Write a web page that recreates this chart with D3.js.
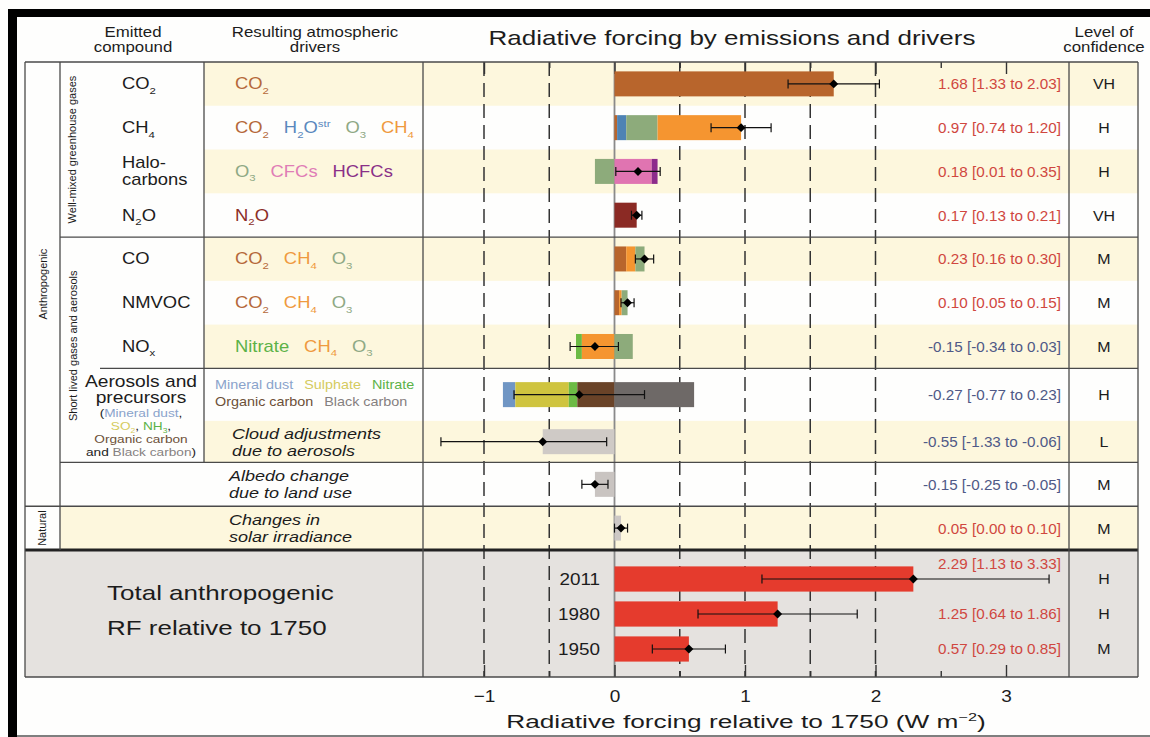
<!DOCTYPE html>
<html>
<head>
<meta charset="utf-8">
<script src="https://cdn.jsdelivr.net/npm/d3@7"></script>
<style>
  body { margin: 0; background: #fff; }
  svg { display: block; }
  text { font-family: "Liberation Sans", Arial, Helvetica, sans-serif; }
</style>
</head>
<body>
<svg id="chart" width="1150" height="737"></svg>
<script>
// ---------------- data ----------------
const rowKeys = ["CO2", "CH4", "Halocarbons", "N2O", "CO", "NMVOC", "NOx", "Aerosols", "Cloud", "Albedo", "Solar"];
const bestEstimate = [1.68, 0.97, 0.18, 0.17, 0.23, 0.10, -0.15, -0.27, -0.55, -0.15, 0.05];
const lowerBound   = [1.33, 0.74, 0.01, 0.13, 0.16, 0.05, -0.34, -0.77, -1.33, -0.25, 0.00];
const upperBound   = [2.03, 1.20, 0.35, 0.21, 0.30, 0.15, 0.03, 0.23, -0.06, -0.05, 0.10];
const confidenceLevel = ["VH", "H", "H", "VH", "M", "M", "M", "H", "L", "M", "M"];

// contribution of each atmospheric driver, listed left to right along the bar
const contributions = [
  [["CO2", 1.68]],
  [["CO2", 0.02], ["H2Ostr", 0.07], ["O3", 0.24], ["CH4", 0.64]],
  [["O3", -0.15], ["CFCs", 0.285], ["HCFCs", 0.045]],
  [["N2O", 0.17]],
  [["CO2", 0.09], ["CH4", 0.07], ["O3", 0.07]],
  [["CO2", 0.035], ["CH4", 0.02], ["O3", 0.045]],
  [["Nitrate", -0.045], ["CH4", -0.25], ["O3", 0.14]],
  [["Mineral dust", -0.095], ["Sulphate", -0.41], ["Nitrate", -0.065], ["Organic carbon", -0.285], ["Black carbon", 0.61]],
  [["Cloud", -0.55]],
  [["Albedo", -0.15]],
  [["Solar", 0.05]]
];

const emittedLabels = [["CO_2"], ["CH_4"], ["Halo-", "carbons"], ["N_2O"], ["CO"], ["NMVOC"], ["NO_x"], [], [], [], []];
const driverLabels = [
  ["CO2"], ["CO2", "H2Ostr", "O3", "CH4"], ["O3", "CFCs", "HCFCs"], ["N2O"],
  ["CO2", "CH4", "O3"], ["CO2", "CH4", "O3"], ["Nitrate", "CH4", "O3"]
];
const aerosolLegend = [["Mineral dust", "Sulphate", "Nitrate"], ["Organic carbon", "Black carbon"]];
const descriptions = { Cloud: ["Cloud adjustments", "due to aerosols"], Albedo: ["Albedo change", "due to land use"], Solar: ["Changes in", "solar irradiance"] };
const formula = { CO2: "CO_2", CH4: "CH_4", N2O: "N_2O", O3: "O_3", H2Ostr: "H_2O^{str}", CFCs: "CFCs", HCFCs: "HCFCs", Nitrate: "Nitrate" };

const years = ["2011", "1980", "1950"];
const totalBest = [2.29, 1.25, 0.57];
const totalLow  = [1.13, 0.64, 0.29];
const totalHigh = [3.33, 1.86, 0.85];
const totalConfidence = ["H", "H", "M"];

const axisTicks = [-1, 0, 1, 2, 3];
const halfTicks = [-0.5, 0.5, 1.5, 2.5];

// ---------------- styles ----------------
const INK = "#1c1c1c";
const barColor = {
  CO2: "#b8652c", H2Ostr: "#4e83b4", O3: "#8dab7b", CH4: "#f59530", CFCs: "#e074b1", HCFCs: "#8c2b8b",
  N2O: "#8b2a24", Nitrate: "#6cbb45", "Mineral dust": "#7096c4", Sulphate: "#cfc43f",
  "Organic carbon": "#6a4328", "Black carbon": "#6e6967", Cloud: "#cfcac6", Albedo: "#c9c4c1", Solar: "#cdc8c5"
};
const textColor = {
  CO2: "#b5693a", H2Ostr: "#5a88bd", O3: "#8fa985", CH4: "#ef9a3e", CFCs: "#e07db6", HCFCs: "#8a3088",
  N2O: "#8c2e28", Nitrate: "#5cb247", "Mineral dust": "#8aa3cb", Sulphate: "#d5cb5e",
  "Organic carbon": "#6c5038", "Black carbon": "#858080"
};
const CREAM = "#fdf7dd", TOTAL_BG = "#e5e2df", TOTAL_RED = "#e53b2d";
const POS_TXT = "#d0473f", NEG_TXT = "#4f5987", LINE = "#4a4a4a";

// ---------------- layout ----------------
const L = { tableL: 25, colGroup: 60, colSub: 100, colEmit: 204, plotL: 423, plotR: 1069, tableR: 1138,
            top: 62, rowsBottom: 550, bottom: 677 };
const svg = d3.select("#chart");

const x = d3.scaleLinear().domain([-1, 3]).range([484, 1006]);

// rows: aerosols row a bit taller, cloud row a bit shorter
const rowWeight = k => k === "Aerosols" ? 1.2 : k === "Cloud" ? 0.95 : 1;
const cum = [0];
rowKeys.forEach(k => cum.push(cum[cum.length - 1] + rowWeight(k)));
const yEdge = d3.scaleLinear().domain([0, cum[cum.length - 1]]).range([L.top, L.rowsBottom]);
const rowTop = i => yEdge(cum[i]);
const rowBot = i => yEdge(cum[i + 1]);
const rowMid = i => (rowTop(i) + rowBot(i)) / 2;
const barH = 25;

const yTot = d3.scaleBand().domain(years).range([561.5, 666.5]).paddingInner(0.28).paddingOuter(0.14);

// rich text with _sub and ^sup markup, optional coloured segments
function richText(parent, px, py, segs, o) {
  const size = o.size;
  const t = parent.append("text")
    .attr("transform", `translate(${px},${py}) scale(${o.sx || 1},1)`)
    .attr("font-size", size)
    .attr("text-anchor", o.anchor || "start")
    .attr("fill", o.color || INK);
  if (o.italic) t.attr("font-style", "italic");
  let shift = 0;
  (typeof segs === "string" ? [{ s: segs }] : segs).forEach(seg => {
    const re = /_\{([^}]*)\}|_(.)|\^\{([^}]*)\}|\^(.)|([^_^]+)/g;
    let m, first = true;
    while ((m = re.exec(seg.s))) {
      let txt = m[5], target = 0, fs = size;
      if (m[1] != null || m[2] != null) { txt = m[1] != null ? m[1] : m[2]; target = size * 0.28; fs = size * 0.62; }
      else if (m[3] != null || m[4] != null) { txt = m[3] != null ? m[3] : m[4]; target = -size * 0.4; fs = size * 0.62; }
      const ts = t.append("tspan").attr("font-size", fs).text(txt);
      if (target - shift !== 0) ts.attr("dy", target - shift);
      if (first && seg.dx) ts.attr("dx", seg.dx);
      if (seg.c) ts.attr("fill", seg.c);
      shift = target; first = false;
    }
  });
  return t;
}

// ---------------- backgrounds ----------------
svg.append("rect").attr("width", 1150).attr("height", 737).attr("fill", "#fefefd");
const bg = svg.append("g");
rowKeys.forEach((k, i) => {
  if (i % 2 !== 0) return;
  const x0 = k === "Solar" ? L.colGroup : L.colEmit;
  bg.append("rect").attr("x", x0).attr("y", rowTop(i)).attr("width", L.tableR - x0)
    .attr("height", rowBot(i) - rowTop(i)).attr("fill", CREAM);
});
bg.append("rect").attr("x", L.tableL).attr("y", L.rowsBottom).attr("width", L.tableR - L.tableL)
  .attr("height", L.bottom - L.rowsBottom).attr("fill", TOTAL_BG);

// ---------------- grid ----------------
const grid = svg.append("g");
grid.selectAll("line.dash").data(x.ticks(10).filter(v => v !== 0 && v <= 2)).join("line")
  .attr("x1", d => x(d)).attr("x2", d => x(d)).attr("y1", L.top).attr("y2", L.bottom)
  .attr("stroke", "#333").attr("stroke-width", 1.5).attr("stroke-dasharray", "14,7");
grid.append("line").attr("x1", x(0)).attr("x2", x(0)).attr("y1", L.top).attr("y2", L.bottom)
  .attr("stroke", "#8a8a8a").attr("stroke-width", 1.8);

// axes: ticks pointing into the plot
const styleAxis = g => { g.select(".domain").remove(); g.selectAll(".tick line").attr("stroke", "#333").attr("stroke-width", 1.4); };
svg.append("g").attr("transform", `translate(0,${L.top})`)
  .call(d3.axisTop(x).tickValues(axisTicks).tickSize(-12).tickFormat("")).call(styleAxis);
svg.append("g").attr("transform", `translate(0,${L.top})`)
  .call(d3.axisTop(x).tickValues(halfTicks).tickSize(-6).tickFormat("")).call(styleAxis);
svg.append("g").attr("transform", `translate(0,${L.bottom})`)
  .call(d3.axisBottom(x).tickValues(halfTicks).tickSize(-6).tickFormat("")).call(styleAxis);
const xAxis = svg.append("g").attr("transform", `translate(0,${L.bottom})`)
  .call(d3.axisBottom(x).tickValues(axisTicks).tickSize(-12).tickPadding(13).tickFormat(d3.format("d"))).call(styleAxis);
xAxis.selectAll(".tick text").attr("font-size", 17).attr("fill", INK)
  .attr("font-family", '"Liberation Sans", Arial, sans-serif').attr("transform", "scale(1.12,1)");

// ---------------- bars ----------------
const bars = svg.append("g");
contributions.forEach((parts, i) => {
  let start = d3.sum(parts, p => Math.min(0, p[1]));
  parts.forEach(([key, v]) => {
    const end = start + Math.abs(v);
    bars.append("rect").attr("x", x(start)).attr("width", x(end) - x(start))
      .attr("y", rowMid(i) - barH / 2).attr("height", barH).attr("fill", barColor[key]);
    start = end;
  });
});
bars.selectAll("rect.total").data(years).join("rect").attr("class", "total")
  .attr("x", (d, i) => x(Math.min(0, totalBest[i])))
  .attr("width", (d, i) => Math.abs(x(totalBest[i]) - x(0)))
  .attr("y", d => yTot(d)).attr("height", yTot.bandwidth()).attr("fill", TOTAL_RED);

// uncertainty ranges and best estimates
const errs = rowKeys.map((k, i) => ({ y: rowMid(i), lo: lowerBound[i], hi: upperBound[i], best: bestEstimate[i] }))
  .concat(years.map((yr, i) => ({ y: yTot(yr) + yTot.bandwidth() / 2, lo: totalLow[i], hi: totalHigh[i], best: totalBest[i] })));
const eg = svg.append("g").attr("stroke", "#111").attr("stroke-width", 1.2);
errs.forEach(e => {
  eg.append("line").attr("x1", x(e.lo)).attr("x2", x(e.hi)).attr("y1", e.y).attr("y2", e.y);
  [e.lo, e.hi].forEach(v => eg.append("line").attr("x1", x(v)).attr("x2", x(v)).attr("y1", e.y - 4.5).attr("y2", e.y + 4.5));
});
const diamond = d3.symbol(d3.symbolSquare, 40);
svg.append("g").selectAll("path").data(errs).join("path")
  .attr("d", diamond).attr("fill", "#000")
  .attr("transform", d => `translate(${x(d.best)},${d.y}) rotate(45)`);

// ---------------- table lines ----------------
const lines = svg.append("g").attr("stroke", LINE).attr("stroke-width", 1.3);
const hLine = (y, x1, w) => lines.append("line").attr("x1", x1).attr("x2", L.tableR).attr("y1", y).attr("y2", y).attr("stroke-width", w || 1.3);
hLine(L.top, L.tableL);
hLine(rowBot(3), L.colGroup);
hLine(rowBot(6), L.colSub);
hLine(rowBot(8), L.colGroup);
hLine(rowBot(9), L.tableL);
hLine(L.bottom, L.tableL);
lines.append("line").attr("x1", L.tableL).attr("x2", L.tableR).attr("y1", L.rowsBottom).attr("y2", L.rowsBottom)
  .attr("stroke", "#222").attr("stroke-width", 3);
const vLine = (x0, y1, y2) => lines.append("line").attr("x1", x0).attr("x2", x0).attr("y1", y1).attr("y2", y2);
vLine(L.tableL, L.top, L.bottom);
vLine(L.colGroup, L.top, L.rowsBottom);
vLine(L.colEmit, L.top, rowBot(8));
vLine(L.plotL, L.top, L.bottom);
vLine(L.plotR, L.top, L.bottom);
vLine(L.tableR, L.top, L.bottom);

// ---------------- text ----------------
const T = svg.append("g");
richText(T, 732, 45, "Radiative forcing by emissions and drivers", { size: 20, sx: 1.3, anchor: "middle" });
[["Emitted", "compound", 133], ["Resulting atmospheric", "drivers", 315], ["Level of", "confidence", 1104]].forEach(([a, b, cx]) => {
  richText(T, cx, 37, a, { size: 14.5, sx: 1.16, anchor: "middle" });
  richText(T, cx, 52, b, { size: 14.5, sx: 1.16, anchor: "middle" });
});

// rotated group labels
const rot = (txt, cx, cy) => T.append("text").attr("transform", `translate(${cx},${cy}) rotate(-90)`)
  .attr("text-anchor", "middle").attr("dominant-baseline", "central").attr("font-size", 11).attr("fill", INK).text(txt);
rot("Anthropogenic", 43, (L.top + rowBot(9)) / 2);
rot("Natural", 42, rowMid(10));
rot("Well-mixed greenhouse gases", 72, (L.top + rowBot(3)) / 2);
rot("Short lived gases and aerosols", 73, (rowTop(4) + rowBot(8)) / 2 - 4);

// emitted compounds
emittedLabels.forEach((lab, i) => {
  if (!lab.length) return;
  const off = lab.length === 1 ? [5.5] : [-3, 14];
  lab.forEach((s, j) => richText(T, 122, rowMid(i) + off[j], s, { size: 16, sx: 1.15 }));
});
// aerosols and precursors
const aTop = rowTop(7);
richText(T, 141, aTop + 18.5, "Aerosols and", { size: 16, sx: 1.2, anchor: "middle" });
richText(T, 141, aTop + 35, "precursors", { size: 16, sx: 1.2, anchor: "middle" });
const sub = { size: 11.2, sx: 1.22, anchor: "middle" };
richText(T, 141, aTop + 48.5, [{ s: "(" }, { s: "Mineral dust", c: textColor["Mineral dust"] }, { s: "," }], sub);
richText(T, 141, aTop + 61.5, [{ s: "SO_2", c: textColor.Sulphate }, { s: ", " }, { s: "NH_3", c: textColor.Nitrate }, { s: "," }], sub);
richText(T, 141, aTop + 74.5, [{ s: "Organic carbon", c: textColor["Organic carbon"] }], sub);
richText(T, 141, aTop + 87.5, [{ s: "and " }, { s: "Black carbon", c: textColor["Black carbon"] }, { s: ")" }], sub);

// drivers
driverLabels.forEach((keys, i) => {
  richText(T, 235, rowMid(i) + 5.5, keys.map((k, j) => ({ s: formula[k], c: textColor[k], dx: j ? 13 : 0 })), { size: 16, sx: 1.15 });
});
aerosolLegend.forEach((keys, j) => {
  richText(T, 215, aTop + 21 + j * 16.5, keys.map((k, n) => ({ s: k, c: textColor[k], dx: n ? 9.5 : 0 })), { size: 12.5, sx: 1.15 });
});
Object.entries(descriptions).forEach(([k, lines2]) => {
  const i = rowKeys.indexOf(k);
  const x0 = k === "Cloud" ? 232 : 229;
  lines2.forEach((s, j) => richText(T, x0, rowMid(i) - 3 + j * 17, s, { size: 15, sx: 1.2, italic: true }));
});

// values and confidence
const fmt = d3.format(".2f");
const rangeText = (b, lo, hi) => `${fmt(b)} [${fmt(lo)} to ${fmt(hi)}]`.replace(/\u2212/g, "-");
rowKeys.forEach((k, i) => {
  richText(T, 1061, rowMid(i) + 5.5, rangeText(bestEstimate[i], lowerBound[i], upperBound[i]),
    { size: 14, sx: 1.09, anchor: "end", color: bestEstimate[i] >= 0 ? POS_TXT : NEG_TXT });
  richText(T, 1104, rowMid(i) + 5.5, confidenceLevel[i], { size: 14.5, sx: 1.1, anchor: "middle" });
});
years.forEach((yr, i) => {
  const cy = yTot(yr) + yTot.bandwidth() / 2;
  richText(T, 1061, i === 0 ? cy - 10 : cy + 5, rangeText(totalBest[i], totalLow[i], totalHigh[i]),
    { size: 14, sx: 1.09, anchor: "end", color: totalBest[i] >= 0 ? POS_TXT : NEG_TXT });
  richText(T, 1104, cy + 5, totalConfidence[i], { size: 14.5, sx: 1.1, anchor: "middle" });
  richText(T, 600, cy + 6, yr, { size: 16, sx: 1.18, anchor: "end" });
});
richText(T, 107, 600, "Total anthropogenic", { size: 20, sx: 1.3 });
richText(T, 107, 635, "RF relative to 1750", { size: 20, sx: 1.3 });

// axis title
richText(T, 746, 728, "Radiative forcing relative to 1750 (W m^{\u22122})", { size: 18.5, sx: 1.42, anchor: "middle" });

// ---------------- frame ----------------
svg.append("rect").attr("x", 8).attr("y", 9).attr("width", 9).attr("height", 728).attr("fill", "#000");
svg.append("rect").attr("x", 8).attr("y", 9).attr("width", 1142).attr("height", 8).attr("fill", "#000");
svg.append("line").attr("x1", 17).attr("x2", 1150).attr("y1", 736).attr("y2", 736).attr("stroke", "#555").attr("stroke-width", 1.5);
</script>
</body>
</html>
